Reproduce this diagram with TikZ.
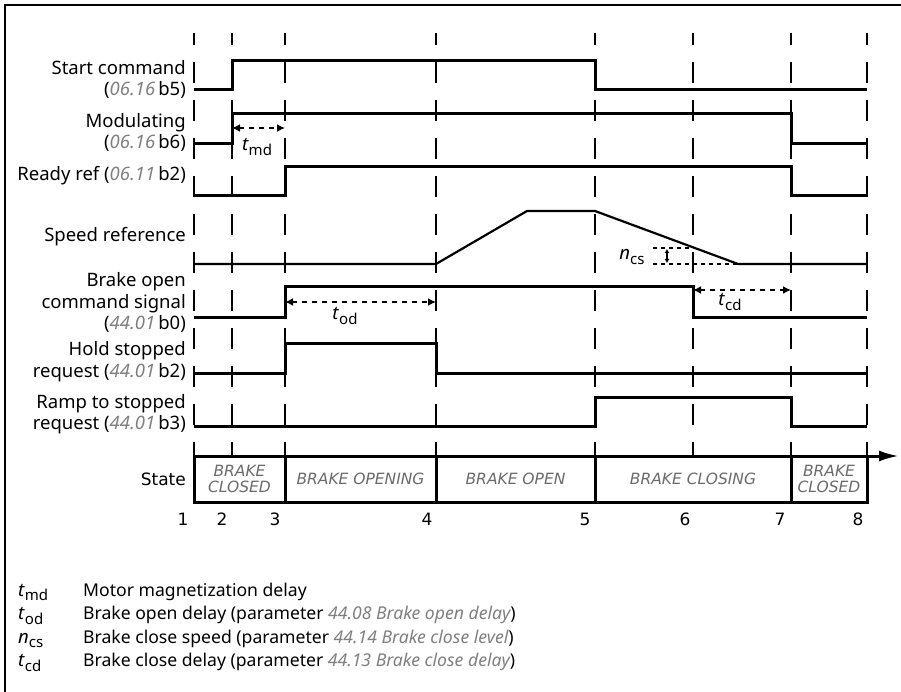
\documentclass[tikz,border=0pt]{standalone}
\usepackage{fontspec}
\setmainfont{Noto Sans}
\newfontfamily\statefont{DejaVu Sans}
\usepackage{tikz}
\usetikzlibrary{arrows.meta}
\definecolor{parmgray}{gray}{0.5}
\definecolor{stategray}{gray}{0.42}
\newcommand{\parm}[1]{\textcolor{parmgray}{\itshape #1}}
\newcommand{\tsym}[2]{\textit{#1}\raisebox{-0.25em}{\fontsize{15}{15}\selectfont #2}}
\newcommand{\lblfont}{\fontsize{18.5}{21}\selectfont}
\newcommand{\numfont}{\statefont\fontsize{17}{20}\selectfont}

\begin{document}
\begin{tikzpicture}[x=1pt,y=-1pt,line join=miter,
        sig/.style={line width=3pt},
        vdash/.style={line width=2.6pt,dash pattern=on 21pt off 17pt,dash phase=9pt},
        delay/.style={line width=1.8pt,dash pattern=on 5pt off 5pt,
            {Latex[length=8pt,width=8pt]}-{Latex[length=8pt,width=8pt]}},
        lbl/.style={anchor=base east,inner sep=0pt,font=\lblfont},
        num/.style={anchor=base,inner sep=0pt,font=\numfont},
        statebox/.style={draw,line width=3pt,inner sep=0pt,outer sep=0pt,minimum height=46pt,
            align=center,text=stategray,font=\statefont\itshape\fontsize{15.5}{16}\selectfont},
        legsym/.style={anchor=base west,inner sep=0pt,font=\lblfont},
        legtxt/.style={anchor=base west,inner sep=0pt,font=\fontsize{17.6}{20}\selectfont}]
        \useasboundingbox (0,0) rectangle (901,692);
        \draw[line width=1.2pt] (5,692) -- (5,5) -- (901,5);

        % time instants
        \foreach \x in {194,232,285,436,595,693,791,867}
            \draw[vdash] (\x,33) -- (\x,456);

        % signal names
        \node[lbl] (start1) at (186,75) {Start command};
        \node[lbl] (start2) at (186,96) {(\parm{06.16}\,b5)};
        \node[lbl] (mod1) at (186,128) {Modulating};
        \node[lbl] (mod2) at (186,149) {(\parm{06.16}\,b6)};
        \node[lbl] (rdy) at (186,181) {Ready ref (\parm{06.11}\,b2)};
        \node[lbl] (spd) at (186,242) {Speed reference};
        \node[lbl] (bo1) at (186,287) {Brake open};
        \node[lbl] (bo2) at (186,308) {command signal};
        \node[lbl] (bo3) at (186,329) {(\parm{44.01}\,b0)};
        \node[lbl] (hold1) at (186,355) {Hold stopped};
        \node[lbl] (hold2) at (186,377) {request (\parm{44.01}\,b2)};
        \node[lbl] (ramp1) at (186,408) {Ramp to stopped};
        \node[lbl] (ramp2) at (186,429) {request (\parm{44.01}\,b3)};

        % waveforms
        \draw[sig] (194,90) -- (232,90) -- (232,61) -- (595,61) -- (595,90) -- (867,90);
        \draw[sig] (194,144) -- (232,144) -- (232,114) -- (791,114) -- (791,144) -- (867,144);
        \draw[sig] (194,196) -- (285,196) -- (285,167) -- (791,167) -- (791,196) -- (867,196);
        \draw[line width=2.2pt] (194,264) -- (436,264) -- (527,211) -- (595,211) -- (738,264) -- (867,264);
        \draw[sig] (194,317) -- (285,317) -- (285,287) -- (693,287) -- (693,317) -- (867,317);
        \draw[sig] (194,373) -- (285,373) -- (285,343) -- (436,343) -- (436,373) -- (867,373);
        \draw[sig] (194,426) -- (595,426) -- (595,397) -- (791,397) -- (791,426) -- (867,426);

        % delays
        \draw[delay] (232,128) -- (285,128);
        \node (tmd) at (257,147) {\lblfont\tsym{t}{md}};
        \draw[delay] (285,302) -- (436,302);
        \node (tod) at (345,316) {\lblfont\tsym{t}{od}};
        \draw[delay] (693,290) -- (791,290);
        \node (tcd) at (730,302) {\lblfont\tsym{t}{cd}};
        \draw[line width=1.3pt,dash pattern=on 4pt off 4pt] (653,248) -- (693,248);
        \draw[line width=1.3pt,dash pattern=on 4pt off 4pt] (653,264) -- (738,264);
        \draw[line width=1.3pt,{Latex[length=4pt,width=5pt]}-{Latex[length=4pt,width=5pt]}] (667,249) -- (667,263);
        \node (ncs) at (632,257) {\lblfont\tsym{n}{cs}};

        % states
        \node[lbl,font=\numfont] (state) at (186,485) {State};
        \node[statebox,minimum width=91pt] (s1) at (239.5,479) {BRAKE\\CLOSED};
        \node[statebox,minimum width=151pt] (s2) at (360.5,479) {BRAKE OPENING};
        \node[statebox,minimum width=159pt] (s3) at (515.5,479) {BRAKE OPEN};
        \node[statebox,minimum width=196pt] (s4) at (693,479) {BRAKE CLOSING};
        \node[statebox,minimum width=76pt] (s5) at (829,479) {BRAKE\\CLOSED};
        \coordinate (tend) at (899,456);
        \draw[line width=3pt,-{Latex[length=20pt,width=11pt]}] (s5.north east) -- (tend);
        \foreach \x/\n in {183/1,222/2,275/3,427/4,585/5,685/6,780/7,858/8}
            \node[num] (n\n) at (\x,525) {\n};

        % legend
        \node[legsym] (lmd) at (18,596) {\tsym{t}{md}};
        \node[legtxt] (lmdt) at (83,596) {Motor magnetization delay};
        \node[legsym] (lod) at (18,619.5) {\tsym{t}{od}};
        \node[legtxt] (lodt) at (83,619.5) {Brake open delay (parameter \parm{44.08 Brake open delay})};
        \node[legsym] (lcs) at (18,643) {\tsym{n}{cs}};
        \node[legtxt] (lcst) at (83,643) {Brake close speed (parameter \parm{44.14 Brake close level})};
        \node[legsym] (lcd) at (18,666.5) {\tsym{t}{cd}};
        \node[legtxt] (lcdt) at (83,666.5) {Brake close delay (parameter \parm{44.13 Brake close delay})};
    \end{tikzpicture}
\end{document}
